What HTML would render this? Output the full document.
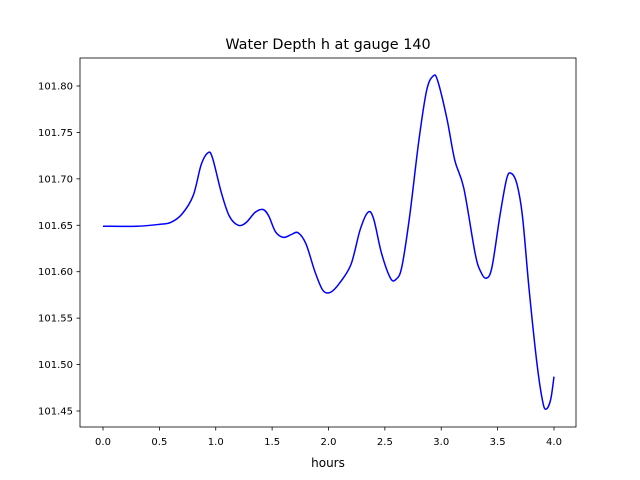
<!DOCTYPE html>
<html><head><meta charset="utf-8">
<style>
html,body{margin:0;padding:0;background:#fff;}
svg{display:block;font-family:"DejaVu Sans","Liberation Sans",sans-serif;}
</style></head>
<body>
<svg id="chart" width="640" height="480" viewBox="0 0 640 480">
<rect width="640" height="480" fill="#fff"/>
<text x="328" y="49" text-anchor="middle" font-size="14.4">Water Depth h at gauge 140</text>
<g id="plot"></g>
<rect x="80" y="58" width="496" height="369" fill="none" stroke="#000" stroke-width="0.8"/>
<text x="328" y="467" text-anchor="middle" font-size="12">hours</text>
</svg>
<script>
const hours=[0.0,0.3,0.5,0.6,0.7,0.8,0.87,0.93,0.97,1.05,1.12,1.2,1.27,1.35,1.42,1.47,1.53,1.6,1.67,1.73,1.8,1.88,1.95,2.02,2.1,2.2,2.28,2.35,2.4,2.47,2.55,2.6,2.65,2.72,2.8,2.87,2.93,2.97,3.05,3.12,3.2,3.3,3.35,3.4,3.45,3.52,3.58,3.62,3.67,3.72,3.78,3.85,3.9,3.93,3.97,4.0];
const depth=[101.649,101.649,101.651,101.653,101.662,101.682,101.715,101.728,101.723,101.685,101.660,101.650,101.653,101.664,101.667,101.660,101.643,101.637,101.640,101.642,101.630,101.600,101.580,101.578,101.588,101.608,101.645,101.664,101.657,101.620,101.593,101.592,101.605,101.660,101.740,101.795,101.811,101.805,101.765,101.720,101.690,101.620,101.600,101.593,101.605,101.660,101.700,101.706,101.695,101.660,101.580,101.500,101.460,101.452,101.462,101.487];
const xTicks=[0,0.5,1,1.5,2,2.5,3,3.5,4];
const xTickLabels=["0.0","0.5","1.0","1.5","2.0","2.5","3.0","3.5","4.0"];
const yTicks=[101.45,101.50,101.55,101.60,101.65,101.70,101.75,101.80];
const yTickLabels=["101.45","101.50","101.55","101.60","101.65","101.70","101.75","101.80"];
const NS="http://www.w3.org/2000/svg";
const xs=v=>103+v*112.75;
const ys=v=>411-(v-101.45)/0.05*46.43;
const g=document.getElementById('plot');
function mk(t,a){const e=document.createElementNS(NS,t);for(const k in a)e.setAttribute(k,a[k]);return e;}
xTicks.forEach((t,i)=>{
 const l=mk('line',{x1:xs(t),x2:xs(t),y1:427,y2:430.5,stroke:'#000','stroke-width':0.8});
 
 
 g.appendChild(l);
 const tx=mk('text',{x:xs(t),y:445,'text-anchor':'middle','font-size':10});
 
 
 tx.textContent=xTickLabels[i];g.appendChild(tx);
});
yTicks.forEach((t,i)=>{
 const l=mk('line',{x1:76.5,x2:80,y1:ys(t),y2:ys(t),stroke:'#000','stroke-width':0.8});
 
 
 g.appendChild(l);
 const tx=mk('text',{x:73,y:ys(t)+3.5,'text-anchor':'end','font-size':10});
 
 
 tx.textContent=yTickLabels[i];g.appendChild(tx);
});
const P=hours.map((h,i)=>[xs(h),ys(depth[i])]);
let d='M'+P[0][0]+','+P[0][1];
for(let i=0;i<P.length-1;i++){
 const p0=P[Math.max(i-1,0)],p1=P[i],p2=P[i+1],p3=P[Math.min(i+2,P.length-1)];
 const c1=[p1[0]+(p2[0]-p0[0])/6,p1[1]+(p2[1]-p0[1])/6];
 const c2=[p2[0]-(p3[0]-p1[0])/6,p2[1]-(p3[1]-p1[1])/6];
 d+=' C'+c1[0]+','+c1[1]+' '+c2[0]+','+c2[1]+' '+p2[0]+','+p2[1];
}
const path=mk('path',{d:d,fill:'none',stroke:'#0000ff','stroke-width':1.5});


g.appendChild(path);
</script>
</body></html>
